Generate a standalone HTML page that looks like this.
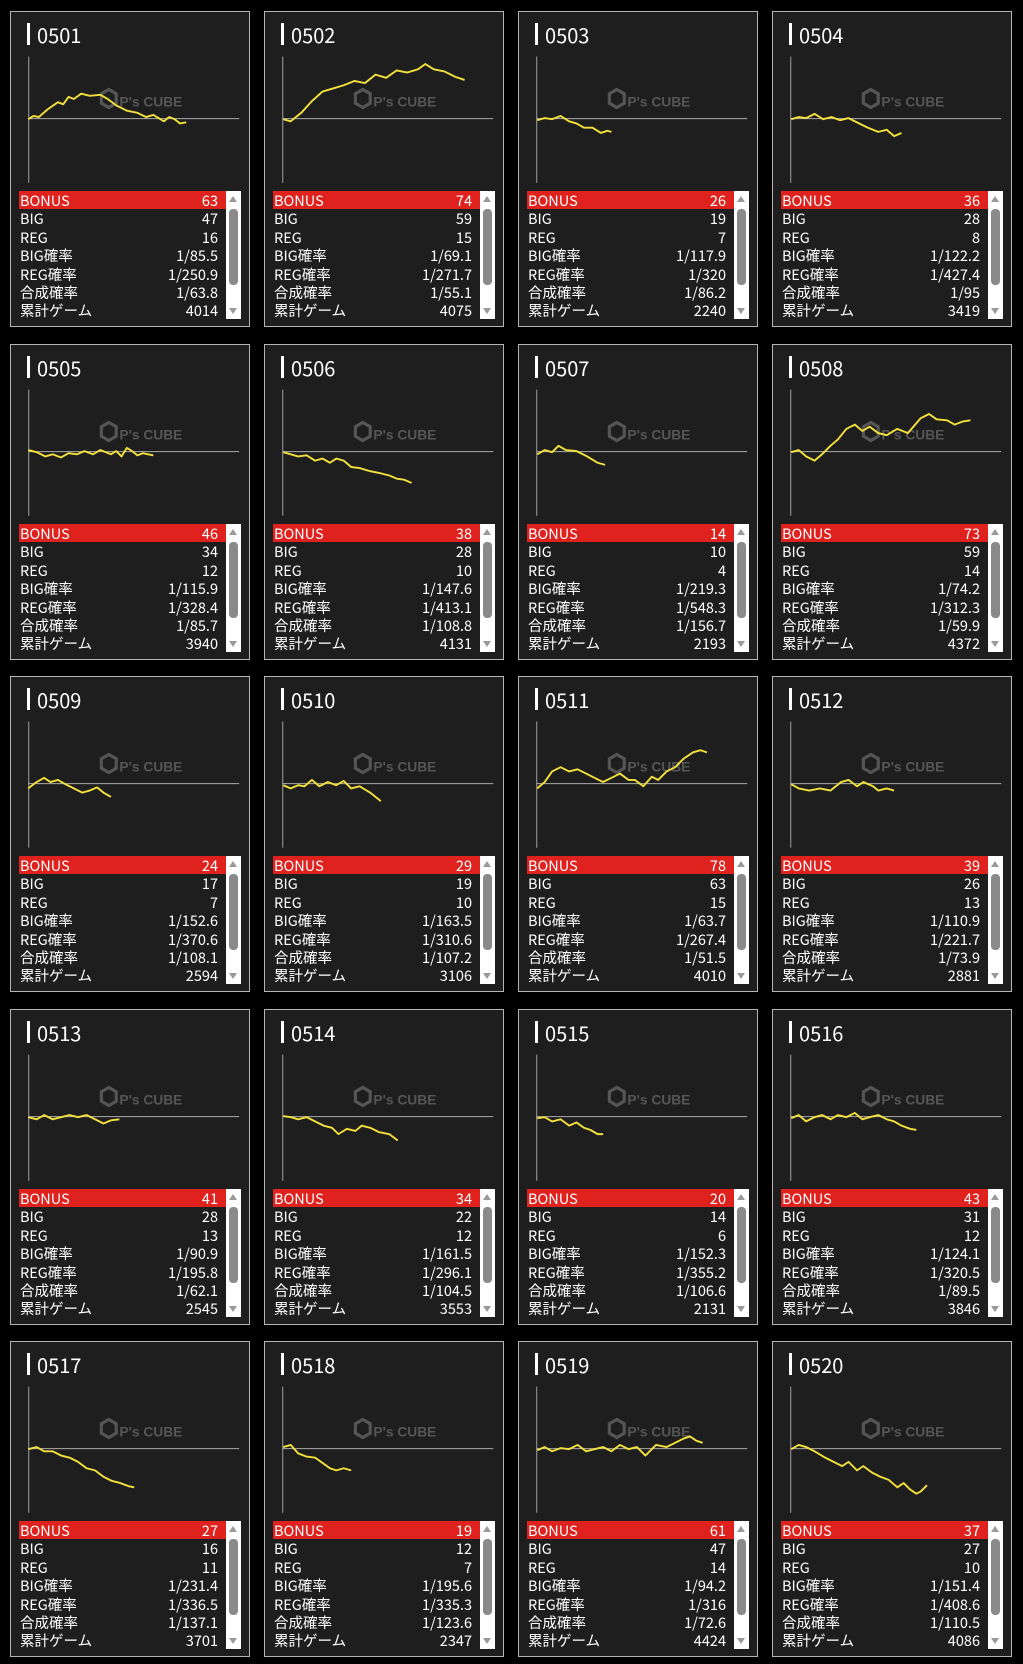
<!DOCTYPE html>
<html><head><meta charset="utf-8"><style>
body{margin:0;background:#000;width:1023px;height:1664px;position:relative;overflow:hidden;font-family:"Noto Sans CJK JP","Liberation Sans",sans-serif;}
.p{position:absolute;width:238px;height:314px;border:1px solid #b5b5b5;background:#1e1e1e;}
.bar{position:absolute;left:16px;top:11px;width:3px;height:22px;background:#fff;}
.tt{position:absolute;left:26px;top:10px;font-size:20px;color:#fff;line-height:26px;}
svg{position:absolute;left:-1px;top:-1px;}
.tb{position:absolute;left:8px;top:179px;width:207px;height:128px;}
.r{height:18.4px;line-height:19.5px;font-size:14.5px;color:#fff;display:flex;justify-content:space-between;padding:0 8px 0 1px;overflow:hidden;}
.r.h{background:#e0221e;}
.sb{position:absolute;left:215px;top:179px;width:15px;height:128px;background:#fff;}
.th{position:absolute;left:3px;top:18px;width:9px;height:76px;background:#8a8a8a;border-radius:4px;}
.ua,.da{position:absolute;left:3px;width:0;height:0;border-left:4.5px solid transparent;border-right:4.5px solid transparent;}
.ua{top:5px;border-bottom:6px solid #999;}
.da{bottom:5px;border-top:6px solid #999;}
</style></head><body>
<div id="root"></div>
<script>
var D=[
["0501",[63,47,16,"1/85.5","1/250.9","1/63.8",4014],"17,102 22,99 27,100 35,93 45,86 50,88 55,81 60,83 67,78 75,80 85,79 92,83 100,89 110,94 120,96 128,100 135,98 145,104 150,100 155,102 160,106 166,105"],
["0502",[74,59,15,"1/69.1","1/271.7","1/55.1",4075],"18,102 25,104 35,96 45,85 55,76 65,73 75,70 85,66 95,68 105,60 115,63 125,56 135,58 145,55 152,50 160,55 170,57 180,62 189,65"],
["0503",[26,19,7,"1/117.9","1/320","1/86.2",2240],"18,103 25,101 32,102 40,99 48,104 55,106 62,110 70,110 78,115 84,113 88,114"],
["0504",[36,28,8,"1/122.2","1/427.4","1/95",3419],"18,102 25,100 32,101 40,97 48,102 56,100 64,103 72,101 80,105 90,110 100,114 108,112 115,118 122,115"],
["0505",[46,34,12,"1/115.9","1/328.4","1/85.7",3940],"17,100 25,102 33,106 40,104 48,107 55,103 63,104 70,101 78,104 85,100 95,104 100,101 105,106 110,98 115,101 120,105 125,103 130,104 135,105"],
["0506",[38,28,10,"1/147.6","1/413.1","1/108.8",4131],"18,102 25,104 32,106 40,105 48,110 55,108 62,112 68,108 75,110 82,116 90,117 100,120 110,122 118,124 125,127 132,128 139,131"],
["0507",[14,10,4,"1/219.3","1/548.3","1/156.7",2193],"18,104 25,100 32,102 38,96 45,100 55,101 65,106 75,112 82,114"],
["0508",[73,59,14,"1/74.2","1/312.3","1/59.9",4372],"18,102 25,100 32,106 40,110 47,104 55,96 62,90 70,80 78,76 85,82 92,78 100,84 108,86 118,80 128,84 140,70 148,66 155,71 165,72 172,76 180,73 187,72"],
["0509",[24,17,7,"1/152.6","1/370.6","1/108.1",2594],"17,106 25,100 32,96 38,100 45,98 52,102 60,106 68,110 75,108 82,105 88,110 95,114"],
["0510",[29,19,10,"1/163.5","1/310.6","1/107.2",3106],"18,103 25,106 32,103 38,104 45,98 52,104 60,100 68,103 75,99 82,106 90,104 100,110 110,118"],
["0511",[78,63,15,"1/63.7","1/267.4","1/51.5",4010],"18,106 25,100 32,90 40,86 48,90 56,88 64,92 72,96 80,100 88,96 96,92 104,98 110,98 118,104 126,95 132,98 140,90 148,86 156,78 165,72 172,70 178,72"],
["0512",[39,26,13,"1/110.9","1/221.7","1/73.9",2881],"18,102 25,106 35,108 45,106 55,108 65,100 72,98 80,104 86,100 95,104 100,108 108,106 115,108"],
["0513",[41,28,13,"1/90.9","1/195.8","1/62.1",2545],"17,102 25,104 32,100 40,104 48,102 56,100 64,102 72,100 80,104 88,108 95,105 103,104"],
["0514",[34,22,12,"1/161.5","1/296.1","1/104.5",3553],"18,101 25,102 32,104 40,102 48,106 56,110 64,112 70,118 78,113 86,115 92,110 100,112 108,116 118,118 126,124"],
["0515",[20,14,6,"1/152.3","1/355.2","1/106.6",2131],"18,103 25,102 32,106 40,104 48,110 55,107 62,112 68,114 75,118 80,118"],
["0516",[43,31,12,"1/124.1","1/320.5","1/89.5",3846],"18,103 25,100 32,106 40,102 47,100 55,104 62,100 70,102 78,98 85,104 92,102 100,100 108,104 115,106 122,110 130,113 136,114"],
["0517",[27,16,11,"1/231.4","1/336.5","1/137.1",3701],"17,102 25,100 32,104 40,104 48,108 56,110 64,114 72,120 80,122 88,128 96,132 104,134 112,137 117,138"],
["0518",[19,12,7,"1/195.6","1/335.3","1/123.6",2347],"18,100 25,98 32,106 40,109 48,110 55,115 62,120 68,122 75,120 82,122"],
["0519",[61,47,14,"1/94.2","1/316","1/72.6",4424],"18,103 25,100 32,104 40,101 48,102 56,98 64,104 72,102 80,100 88,104 96,98 104,102 112,100 120,108 130,98 140,100 148,96 156,92 162,90 168,94 174,96"],
["0520",[37,27,10,"1/151.4","1/408.6","1/110.5",4086],"18,102 25,98 32,100 40,104 50,110 58,114 66,118 72,114 80,122 86,118 94,124 102,128 110,131 118,138 124,134 130,140 136,144 140,142 146,136"]
];
var L=["BONUS","BIG","REG","BIG確率","REG確率","合成確率","累計ゲーム"];
var h="";
D.forEach(function(d,i){
 var c=i%4,r=Math.floor(i/4);
 var x=10+c*254,y=Math.round(11+r*332.5);
 h+='<div class="p" style="left:'+x+'px;top:'+y+'px">';
 h+='<svg width="240" height="316" viewBox="0 0 226 298">'+
 '<g opacity="0.35" fill="#bbb" font-family="Liberation Sans,sans-serif" font-weight="bold"><polygon points="86,78 93,74 100,78 100,87 93,91 86,87" fill="none" stroke="#bbb" stroke-width="3"/><text x="103" y="90" font-size="13">P\'s CUBE</text></g>'+
 '<line x1="17.5" y1="43" x2="17.5" y2="162" stroke="#999" stroke-width="1"/>'+
 '<line x1="17" y1="101.5" x2="216" y2="101.5" stroke="#aaa" stroke-width="1"/>'+
 '<polyline points="'+d[2]+'" fill="none" stroke="#f2e03c" stroke-width="1.8" stroke-linejoin="round"/></svg>';
 h+='<div class="bar"></div><div class="tt">'+d[0]+'</div><div class="tb">';
 for(var k=0;k<7;k++)h+='<div class="r'+(k==0?' h':'')+'"><span>'+L[k]+'</span><span>'+d[1][k]+'</span></div>';
 h+='</div><div class="sb"><div class="ua"></div><div class="th"></div><div class="da"></div></div></div>';
});
document.getElementById("root").innerHTML=h;
</script>
</body></html>
